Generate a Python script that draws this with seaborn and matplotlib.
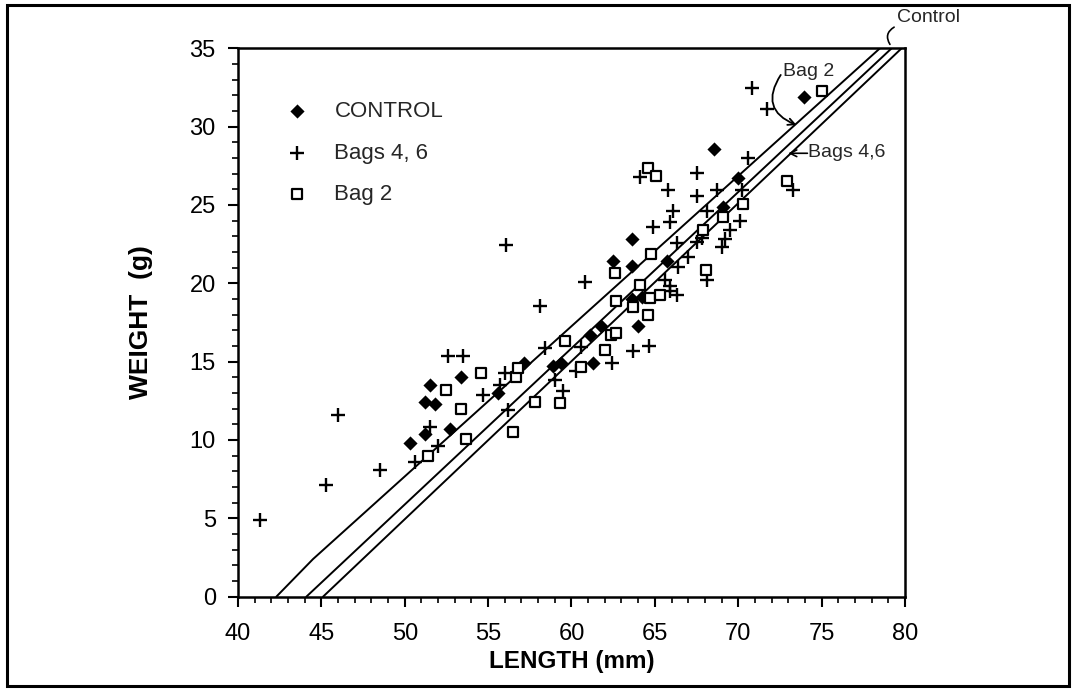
import numpy as np
import pandas as pd
import matplotlib
matplotlib.use("Agg")
import matplotlib.pyplot as plt
import seaborn as sns
from matplotlib.patches import Rectangle
from matplotlib.ticker import MultipleLocator

# ---- data ----
control_len = [50.3, 51.2, 51.5, 51.2, 51.8, 52.7, 53.4, 55.6, 57.15, 58.9, 59.4, 61.3,
               61.1, 61.8, 64.0, 63.6, 64.2, 62.5, 63.6, 63.6, 65.7, 69.1, 70.0, 68.55, 73.95]
control_wt = [9.8, 10.4, 13.5, 12.4, 12.3, 10.7, 14.0, 13.0, 14.9, 14.7, 14.9, 14.9,
              16.7, 17.3, 17.3, 19.0, 19.1, 21.4, 21.1, 22.8, 21.4, 24.9, 26.7, 28.6, 31.9]

bags46_len = [41.3, 45.3, 46.0, 48.5, 50.6, 52.0, 51.5, 52.6, 53.5, 54.7, 55.7, 56.0,
              56.2, 56.1, 58.1, 58.4, 59.0, 59.5, 60.3, 60.55, 60.8, 62.45, 63.7, 64.65,
              64.1, 64.9, 65.6, 65.9, 66.3, 65.9, 65.8, 66.1, 65.9, 66.3, 66.4, 67.0,
              67.5, 67.8, 67.5, 67.5, 68.1, 68.1, 68.7, 69.0, 69.2, 69.5, 70.1, 70.2,
              70.6, 70.8, 71.75, 73.3]
bags46_wt = [4.9, 7.1, 11.6, 8.1, 8.6, 9.6, 10.85, 15.35, 15.35, 12.9, 13.5, 14.3,
             11.9, 22.45, 18.55, 15.85, 13.8, 13.1, 14.4, 15.95, 20.1, 14.9, 15.7, 16.0,
             26.8, 23.6, 20.2, 19.5, 19.25, 19.8, 25.95, 24.6, 23.9, 22.55, 21.05, 21.7,
             22.65, 22.9, 27.05, 25.6, 24.6, 20.2, 25.95, 22.35, 22.8, 23.4, 24.0, 25.95,
             28.0, 32.45, 31.1, 25.95]

bag2_len = [51.4, 52.5, 53.4, 53.7, 54.6, 56.5, 56.7, 56.8, 57.8, 59.3, 59.6, 60.6,
            62.0, 62.4, 62.7, 62.7, 62.6, 63.7, 64.1, 64.7, 65.3, 64.6, 64.75, 64.6,
            65.05, 67.9, 68.05, 69.1, 70.3, 72.9, 75.0]
bag2_wt = [9.0, 13.2, 12.0, 10.05, 14.3, 10.5, 14.05, 14.6, 12.45, 12.35, 16.3, 14.65,
           15.75, 16.7, 16.8, 18.9, 20.65, 18.5, 19.9, 19.05, 19.25, 18.0, 21.9, 27.35,
           26.85, 23.4, 20.85, 24.25, 25.05, 26.5, 32.25]

# regression lines (length, weight)
line_bag2_len = [42.3, 44.5, 78.5]
line_bag2_wt = [0.0, 2.4, 35.0]
line_control_len = [44.1, 79.2]
line_control_wt = [0.0, 35.0]
line_bags46_len = [45.1, 79.8]
line_bags46_wt = [0.0, 35.0]

x_ticks = [40, 45, 50, 55, 60, 65, 70, 75, 80]
y_ticks = [0, 5, 10, 15, 20, 25, 30, 35]

# ---- figure ----
sns.set_theme(style="ticks")
plt.rcParams["font.family"] = ["Liberation Sans", "DejaVu Sans"]

fig = plt.figure(figsize=(10.74, 6.91), dpi=100)
ax = fig.add_axes([0.2216, 0.1365, 0.6210, 0.7936])

df_c = pd.DataFrame({"length": control_len, "weight": control_wt})
df_b46 = pd.DataFrame({"length": bags46_len, "weight": bags46_wt})
df_b2 = pd.DataFrame({"length": bag2_len, "weight": bag2_wt})

for lx, ly in [(line_bag2_len, line_bag2_wt), (line_control_len, line_control_wt),
               (line_bags46_len, line_bags46_wt)]:
    sns.lineplot(x=lx, y=ly, color="black", lw=1.4, ax=ax, sort=False,
                 estimator=None, zorder=2)

sns.scatterplot(data=df_c, x="length", y="weight", marker="D", color="black",
                s=52, linewidth=0, ax=ax, label="CONTROL", zorder=3)
sns.scatterplot(data=df_b46, x="length", y="weight", marker="+", color="black",
                s=100, linewidth=1.7, ax=ax, label="Bags 4, 6", zorder=3)
sns.scatterplot(data=df_b2, x="length", y="weight", marker="s", color="black",
                facecolor="white", edgecolor="black", s=60, linewidth=1.6, ax=ax,
                label="Bag 2", zorder=3)

ax.set_xlim(40, 80)
ax.set_ylim(0, 35)
ax.set_xticks(x_ticks)
ax.set_yticks(y_ticks)
ax.xaxis.set_minor_locator(MultipleLocator(1))
ax.yaxis.set_minor_locator(MultipleLocator(1))
ax.tick_params(which="major", direction="out", length=7, width=1.5, labelsize=17,
               color="black", labelcolor="black")
ax.tick_params(which="minor", direction="out", length=4, width=1.2, color="black")
ax.tick_params(axis="x", which="major", pad=12)
ax.tick_params(axis="y", which="major", pad=9)
for sp in ax.spines.values():
    sp.set_visible(True)
    sp.set_linewidth(1.8)
    sp.set_color("black")

ax.set_xlabel("LENGTH (mm)", fontsize=17.5, fontweight="bold", color="black")
ax.set_ylabel("WEIGHT  (g)", fontsize=19, fontweight="bold", color="black")
ax.xaxis.set_label_coords(0.5, -0.098)
ax.yaxis.set_label_coords(-0.128, 0.5)

leg = ax.legend(loc="upper left", bbox_to_anchor=(0.058, 0.92), frameon=False,
                fontsize=16, labelspacing=0.92, handlelength=1.0, handletextpad=1.2,
                scatterpoints=1, borderaxespad=0)

# annotations
ax.text(72.7, 33.55, "Bag 2", fontsize=14, ha="left", va="center")
ax.annotate("", xy=(73.5, 30.1), xytext=(72.55, 33.3),
            arrowprops=dict(arrowstyle="->", connectionstyle="arc3,rad=0.6",
                            lw=1.3, color="black", shrinkA=0, shrinkB=0))
ax.text(74.2, 28.38, "Bags 4,6", fontsize=14, ha="left", va="center")
ax.annotate("", xy=(73.0, 28.3), xytext=(74.15, 28.3),
            arrowprops=dict(arrowstyle="->", lw=1.2, color="black",
                            shrinkA=0, shrinkB=0))
ax.text(79.5, 36.95, "Control", fontsize=14, ha="left", va="center", clip_on=False)
ax.annotate("", xy=(79.1, 35.25), xytext=(79.35, 36.35), annotation_clip=False,
            arrowprops=dict(arrowstyle="-", connectionstyle="arc3,rad=0.5",
                            lw=1.2, color="black", shrinkA=0, shrinkB=0))

# outer frame
fig.add_artist(Rectangle((7 / 1074, 5 / 691), 1062 / 1074, 681 / 691,
                         transform=fig.transFigure, fill=False, lw=2.2,
                         edgecolor="black"))

fig.savefig("out.png", dpi=100, facecolor="white")
